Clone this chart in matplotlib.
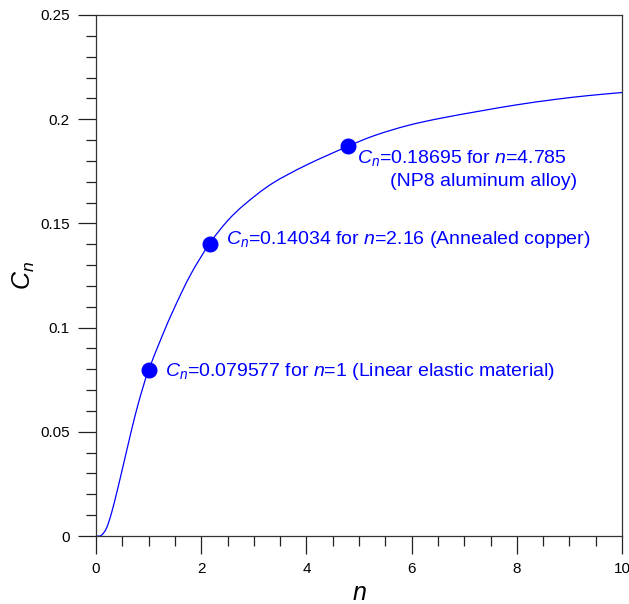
import numpy as np
import matplotlib
matplotlib.use("Agg")
import matplotlib.pyplot as plt
from matplotlib.ticker import MultipleLocator
from matplotlib.path import Path
from matplotlib.patches import PathPatch

plt.rcParams['font.family'] = ['Liberation Sans', 'DejaVu Sans']
plt.rcParams['mathtext.fontset'] = 'custom'
plt.rcParams['mathtext.rm'] = 'Liberation Sans'
plt.rcParams['mathtext.it'] = 'Liberation Sans:italic'

# curve
n_vals = [0.0, 0.1, 0.2, 0.3, 0.4, 0.5, 0.6, 0.7, 0.8, 0.9, 1.0, 1.25, 1.5,
          1.8, 2.16, 2.5, 2.83, 3.34, 4.0, 4.785, 5.3, 5.9, 6.5, 7.3, 8.0,
          8.7, 9.35, 10.0]
c_vals = [0.0, 0.0003, 0.0038, 0.0115, 0.0214, 0.0320, 0.0428, 0.0534,
          0.0632, 0.0719, 0.079577, 0.0955, 0.1100, 0.1255, 0.14034, 0.1512,
          0.1592, 0.1690, 0.1780, 0.18695, 0.1922, 0.1968, 0.2002, 0.2039,
          0.2069, 0.2094, 0.2113, 0.2128]

# marked materials
pt_n = [1.0, 2.16, 4.785]
pt_c = [0.079577, 0.14034, 0.18695]
pt_text = [r"$C_n$=0.079577 for $n$=1 (Linear elastic material)",
           r"$C_n$=0.14034 for $n$=2.16 (Annealed copper)",
           r"$C_n$=0.18695 for $n$=4.785"]

blue = (0, 0, 1)


def smooth_path(xs, ys):
    # Catmull-Rom through the read points, drawn as cubic Bezier pieces
    P = np.column_stack([xs, ys])
    verts = [P[0]]
    codes = [Path.MOVETO]
    for i in range(len(P) - 1):
        p0 = P[max(i - 1, 0)]
        p1, p2 = P[i], P[i + 1]
        p3 = P[min(i + 2, len(P) - 1)]
        verts += [p1 + (p2 - p0) / 6, p2 - (p3 - p1) / 6, p2]
        codes += [Path.CURVE4] * 3
    return Path(verts, codes)


fig = plt.figure(figsize=(6.29, 6.04), dpi=100)
ax = fig.add_axes([96/629, 68/604, 526/629, 521/604])

ax.add_patch(PathPatch(smooth_path(n_vals, c_vals), fill=False,
                       edgecolor=blue, lw=0.9, clip_on=True))
ax.plot(pt_n, pt_c, 'o', color=blue, ms=10.5)

fs = 14
ax.text(1.31, 0.0788, pt_text[0], color=blue, fontsize=fs, ha='left', va='center')
ax.text(2.48, 0.1423, pt_text[1], color=blue, fontsize=fs, ha='left', va='center')
ax.text(4.97, 0.1816, pt_text[2], color=blue, fontsize=fs, ha='left', va='center')
ax.text(5.58, 0.1699, "(NP8 aluminum alloy)", color=blue, fontsize=fs,
        ha='left', va='center')

ax.set_xlim(0, 10)
ax.set_ylim(0, 0.25)
ax.xaxis.set_minor_locator(MultipleLocator(0.5))
ax.yaxis.set_minor_locator(MultipleLocator(0.01))
ax.set_xticks([0, 2, 4, 6, 8, 10])
ax.set_xticklabels(['0', '2', '4', '6', '8', '10'])
ax.set_yticks([0, 0.05, 0.1, 0.15, 0.2, 0.25])
ax.set_yticklabels(['0', '0.05', '0.1', '0.15', '0.2', '0.25'])

ax.tick_params(which='major', direction='out', length=13, width=0.9,
               labelsize=11, pad=6, color='#222222')
ax.tick_params(which='minor', direction='out', length=7, width=0.9,
               color='#222222')
ax.tick_params(top=False, right=False, which='both')
for s in ax.spines.values():
    s.set_color('#333333')
    s.set_linewidth(0.9)

ax.set_xlabel(r"$n$", fontsize=18, labelpad=3)
ax.set_ylabel(r"$C_n$", fontsize=18, labelpad=2)

fig.savefig("out.png", dpi=100)
